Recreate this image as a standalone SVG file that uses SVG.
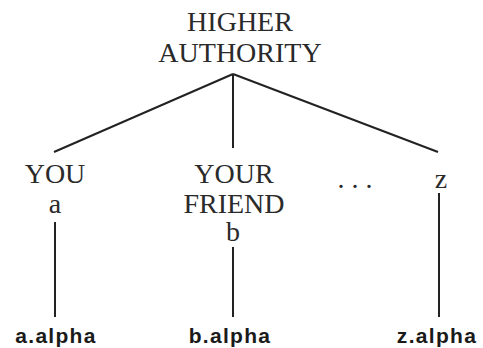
<svg xmlns="http://www.w3.org/2000/svg" width="483" height="348" viewBox="0 0 483 348">
<style>
.t{font-family:"Liberation Serif","Times New Roman",serif;font-size:28px;fill:#2a2a2a;text-anchor:middle}
.b{font-family:"Liberation Sans",Arial,sans-serif;font-size:21px;font-weight:bold;fill:#1a1a1a;text-anchor:middle;letter-spacing:1.3px}
.c{stroke:#222;stroke-width:2;fill:none}
</style>
<rect width="483" height="348" fill="#fff"/>
<g id="connectors">
<line class="c" x1="233" y1="74" x2="54" y2="152"/>
<line class="c" x1="233" y1="74" x2="233" y2="148"/>
<line class="c" x1="233" y1="74" x2="438" y2="152"/>
<line class="c" x1="55" y1="222" x2="55" y2="317"/>
<line class="c" x1="233" y1="247" x2="233" y2="317"/>
<line class="c" x1="439" y1="193" x2="439" y2="317"/>
</g>
<g id="higher-authority">
<text class="t" x="240" y="31">HIGHER</text>
<text class="t" x="240" y="62">AUTHORITY</text>
</g>
<g id="you">
<text class="t" x="55" y="183">YOU</text>
<text class="t" x="55" y="213">a</text>
</g>
<g id="friend">
<text class="t" x="234" y="183">YOUR</text>
<text class="t" x="234" y="213">FRIEND</text>
<text class="t" x="233" y="241">b</text>
</g>
<g id="ellipsis">
<text class="t" x="355" y="188">. . .</text>
</g>
<g id="z">
<text class="t" x="441" y="188">z</text>
</g>
<g id="a-alpha"><text class="b" x="56" y="343">a.alpha</text></g>
<g id="b-alpha"><text class="b" x="230" y="343">b.alpha</text></g>
<g id="z-alpha"><text class="b" x="437" y="343">z.alpha</text></g>
</svg>
